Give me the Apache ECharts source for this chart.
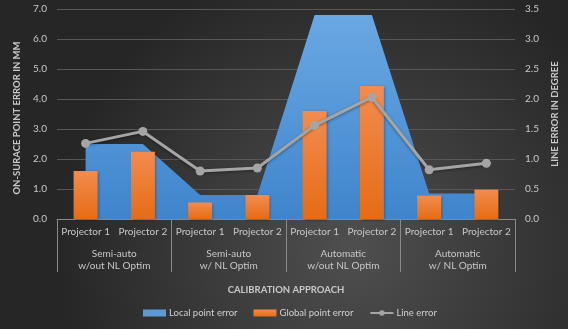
<!DOCTYPE html>
<html>
<head>
<meta charset="utf-8">
<script src="https://cdn.jsdelivr.net/npm/echarts@6/dist/echarts.min.js"></script>
<style>
  html, body { margin: 0; padding: 0; }
  #chart { width: 568px; height: 329px; }
</style>
</head>
<body>
<div id="chart"></div>
<script>
// categories
const projectors = ["Projector 1", "Projector 2", "Projector 1", "Projector 2",
  "Projector 1", "Projector 2", "Projector 1", "Projector 2"];
const approaches = ["Semi-auto\nw/out NL Optim", "Semi-auto\nw/ NL Optim",
  "Automatic\nw/out NL Optim", "Automatic\nw/ NL Optim"];

// values (mm for point errors, degree for line error)
const localPointError = [2.5, 2.5, 0.8, 0.8, 6.8, 6.8, 0.85, 0.85];
const globalPointError = [1.6, 2.24, 0.55, 0.8, 3.6, 4.43, 0.78, 0.98];
const lineError = [1.26, 1.46, 0.8, 0.85, 1.56, 2.03, 0.82, 0.93];

const leftTicks = { min: 0, max: 7, interval: 1 };
const rightTicks = { min: 0, max: 3.5, interval: 0.5 };

const labelColor = "#c8c8c8";
const font = "Lato, 'Open Sans', sans-serif";

const chart = echarts.init(document.getElementById("chart"), null, { renderer: "canvas" });

const option = {
  backgroundColor: new echarts.graphic.RadialGradient(0.62, 0.75, 0.9, [
    { offset: 0, color: "#4f4f4f" },
    { offset: 1, color: "#262626" },
  ]),
  textStyle: { fontFamily: font },
  grid: { left: 57, right: 47, top: 9, bottom: 110 },
  legend: {
    bottom: 11,
    left: 143,
    padding: 0,
    itemWidth: 23,
    itemHeight: 7,
    itemGap: 16,
    textStyle: { color: "#d0d0d0", fontSize: 9.5, fontFamily: font, padding: [0, 0, 0, -2] },
    data: [
      { name: "Local point error", icon: "rect" },
      { name: "Global point error", icon: "rect" },
      { name: "Line error" },
    ],
  },
  xAxis: [
    {
      type: "category",
      data: projectors,
      name: "CALIBRATION APPROACH",
      nameLocation: "middle",
      nameGap: 66,
      nameTextStyle: { color: labelColor, fontSize: 9.5, fontWeight: "bold", fontFamily: font },
      axisLine: { lineStyle: { color: "#8a8a8a", width: 1 } },
      axisTick: { show: false },
      axisLabel: { color: labelColor, fontSize: 10, margin: 8, interval: 0 },
    },
    {
      type: "category",
      data: approaches,
      position: "bottom",
      axisLine: { show: false },
      axisTick: { show: true, length: 53, interval: 0, lineStyle: { color: "#8a8a8a" } },
      axisLabel: { color: labelColor, fontSize: 10, margin: 29, lineHeight: 12, interval: 0 },
    },
  ],
  yAxis: [
    {
      type: "value",
      min: leftTicks.min,
      max: leftTicks.max,
      interval: leftTicks.interval,
      name: "ON-SURACE POINT ERROR IN MM",
      nameLocation: "middle",
      nameGap: 32,
      nameRotate: 90,
      nameTextStyle: { color: labelColor, fontSize: 9.5, fontWeight: "bold", fontFamily: font, padding: [0, 0, 0, -8] },
      axisLine: { show: false },
      axisTick: { show: false },
      axisLabel: { color: labelColor, fontSize: 10, margin: 10, formatter: (v) => v.toFixed(1) },
      splitLine: { lineStyle: { color: "#585858", width: 1 } },
    },
    {
      type: "value",
      min: rightTicks.min,
      max: rightTicks.max,
      interval: rightTicks.interval,
      position: "right",
      name: "LINE ERROR IN DEGREE",
      nameLocation: "middle",
      nameGap: 35,
      nameRotate: 90,
      nameTextStyle: { color: labelColor, fontSize: 9.5, fontWeight: "bold", fontFamily: font },
      axisLine: { show: false },
      axisTick: { show: false },
      axisLabel: { color: labelColor, fontSize: 10, margin: 10, formatter: (v) => v.toFixed(1) },
      splitLine: { show: false },
    },
  ],
  series: [
    {
      name: "Local point error",
      type: "line",
      data: localPointError,
      symbol: "none",
      lineStyle: { width: 0, color: "#5b9bd5" },
      itemStyle: { color: "#5b9bd5" },
      areaStyle: {
        opacity: 1,
        color: new echarts.graphic.LinearGradient(0, 0, 0, 1, [
          { offset: 0, color: "#6aa8e3" },
          { offset: 1, color: "#3f85cc" },
        ]),
      },
      z: 1,
    },
    {
      name: "Global point error",
      type: "bar",
      data: globalPointError,
      barWidth: 24,
      itemStyle: {
        color: new echarts.graphic.LinearGradient(0, 0, 0, 1, [
          { offset: 0, color: "#f28c4f" },
          { offset: 1, color: "#e66c15" },
        ]),
        shadowColor: "rgba(0,0,0,0.35)",
        shadowBlur: 3,
        shadowOffsetX: 1,
        shadowOffsetY: 1,
      },
      z: 2,
    },
    {
      name: "Line error",
      type: "line",
      yAxisIndex: 1,
      data: lineError,
      symbol: "circle",
      symbolSize: 9,
      lineStyle: { color: "#a5a5a5", width: 3, shadowColor: "rgba(0,0,0,0.4)", shadowBlur: 3, shadowOffsetY: 1 },
      itemStyle: { color: "#a5a5a5" },
      z: 3,
    },
  ],
};

chart.setOption(option);
</script>
</body>
</html>
